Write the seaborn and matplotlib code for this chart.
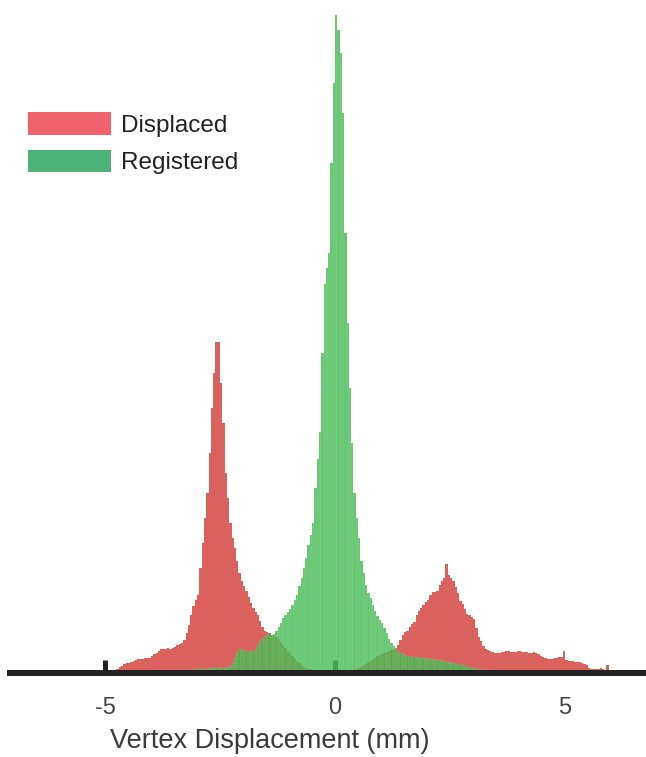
import numpy as np
import pandas as pd
import matplotlib
matplotlib.use("Agg")
import matplotlib.pyplot as plt
import seaborn as sns
from matplotlib.patches import Patch

# histogram bins: -5.0 .. 6.0, width 0.05 (heights)
bin_start = -5.0
bin_width = 0.05

displaced = [
    0, 0, 0, 0, 2, 4, 6, 7, 9, 10,                     # -5.0
    10, 11, 12, 13, 14, 14, 14, 15, 15, 15,            # -4.5
    17, 19, 20, 22, 24, 24, 24, 25, 24, 25,            # -4.0
    26, 28, 29, 30, 33, 40, 48, 58, 67, 73,            # -3.5
    78, 105, 130, 155, 180, 220, 265, 300, 331, 331,   # -3.0
    290, 250, 200, 175, 150, 135, 125, 112, 100, 92,   # -2.5
    87, 82, 76, 70, 65, 61, 58, 52, 46, 42,            # -2.0
    41, 40, 38, 37, 36, 34, 31, 28, 25, 22,            # -1.5
    20, 17, 15, 12, 10, 8, 6, 5, 4, 4,                 # -1.0
    3, 3, 3, 3, 3, 3, 3, 3, 3, 3,                      # -0.5
    3, 3, 3, 3, 3, 3, 3, 3, 4, 4,                      # 0.0
    5, 6, 8, 9, 11, 12, 14, 15, 17, 18,                # 0.5
    19, 20, 21, 22, 23, 24, 25, 28, 33, 38,            # 1.0
    41, 42, 46, 49, 51, 58, 62, 65, 68, 71,            # 1.5
    73, 78, 81, 81, 82, 88, 92, 95, 109, 98,           # 2.0
    95, 92, 86, 80, 72, 69, 64, 59, 58, 56,            # 2.5
    54, 45, 36, 32, 27, 24, 23, 22, 21, 20,            # 3.0
    20, 20, 21, 21, 22, 22, 21, 21, 21, 22,            # 3.5
    22, 21, 21, 21, 20, 20, 21, 20, 19, 17,            # 4.0
    16, 15, 14, 14, 14, 15, 15, 16, 16, 22,            # 4.5
    13, 12, 12, 12, 11, 11, 11, 10, 9, 8,              # 5.0
    5, 4, 4, 4, 4, 5, 4, 2, 8, 0,                      # 5.5
]

registered = [
    0, 0, 0, 0, 0, 0, 0, 0, 0, 0,                      # -5.0
    0, 0, 0, 0, 0, 0, 0, 1, 1, 2,                      # -4.5
    2, 2, 3, 3, 3, 3, 3, 3, 3, 3,                      # -4.0
    3, 3, 3, 3, 3, 3, 3, 3, 3, 4,                      # -3.5
    4, 4, 4, 4, 4, 5, 5, 5, 5, 5,                      # -3.0
    5, 5, 5, 6, 6, 10, 15, 20, 23, 24,                 # -2.5
    22, 22, 21, 22, 22, 24, 28, 31, 34, 37,            # -2.0
    38, 39, 38, 39, 42, 46, 50, 55, 58, 61,            # -1.5
    64, 68, 73, 78, 87, 95, 105, 115, 128, 138,        # -1.0
    150, 185, 214, 241, 320, 389, 405, 420, 510, 590,  # -0.5
    658, 643, 620, 560, 440, 350, 285, 230, 180, 155,  # 0.0
    135, 112, 100, 88, 80, 75, 68, 62, 57, 53,         # 0.5
    50, 45, 40, 34, 30, 27, 24, 22, 20, 19,            # 1.0
    18, 17, 17, 16, 16, 16, 15, 15, 15, 15,            # 1.5
    14, 14, 14, 13, 13, 13, 12, 12, 11, 11,            # 2.0
    10, 10, 9, 9, 8, 8, 7, 6, 6, 5,                    # 2.5
    5, 4, 4, 4, 3, 3, 3, 3, 3, 2,                      # 3.0
    2, 2, 1, 1, 1, 1, 1, 1, 1, 1,                      # 3.5
    1, 1, 1, 1, 1, 1, 1, 1, 1, 1,                      # 4.0
    1, 1, 1, 0, 0, 0, 0, 0, 0, 0,                      # 4.5
    0, 0, 0, 0, 0, 0, 0, 0, 0, 0,                      # 5.0
    0, 0, 0, 0, 0, 0, 0, 0, 0, 0,                      # 5.5
]

series_names = ["Displaced", "Registered"]
legend_colors = ["#F2626A", "#4CB278"]
xticks = [-5, 0, 5]
xlabel = "Vertex Displacement (mm)"

sns.set_style("white")
plt.rcParams["font.family"] = ["Liberation Sans", "DejaVu Sans"]

n_bins = len(displaced)
bin_end = bin_start + bin_width * n_bins
centers = bin_start + bin_width * (np.arange(n_bins) + 0.5)
df = pd.DataFrame({"x": centers, "displaced": displaced, "registered": registered})

fig = plt.figure(figsize=(6.46, 7.57), dpi=100)
ax = fig.add_axes([10 / 646, 84 / 757, 636 / 646, 673 / 757])

sns.histplot(data=df, x="x", weights="displaced", binwidth=bin_width,
             binrange=(bin_start, bin_end), color="#DB615D", alpha=1,
             linewidth=0, ax=ax)
sns.histplot(data=df, x="x", weights="registered", binwidth=bin_width,
             binrange=(bin_start, bin_end), color="#3DB84A", alpha=0.8,
             linewidth=0.3, edgecolor=(1, 1, 1, 0.25), ax=ax)

ax.set_xlim(-7.065, 6.76)
ax.set_ylim(0, 673)
ax.set_yticks([])
ax.set_ylabel("")
for s in ["left", "right", "top"]:
    ax.spines[s].set_visible(False)
ax.spines["bottom"].set_linewidth(4.3)
ax.spines["bottom"].set_color("#222222")
ax.spines["bottom"].set_zorder(5)

ax.set_xticks(xticks)
ax.set_xticklabels([str(t) for t in xticks])
ax.tick_params(axis="x", bottom=True, direction="in", length=9.5, width=3.6,
               color="#222222", pad=17, labelsize=17, labelcolor="#444444")
for t in ax.xaxis.get_major_ticks():
    t.tick1line.set_zorder(5)
ax.set_xlabel(xlabel, fontsize=19.5, color="#3a3a3a")
ax.xaxis.set_label_coords(260 / 636, -55 / 673)

handles = [Patch(facecolor=c, edgecolor="none", label=n)
           for n, c in zip(series_names, legend_colors)]
fig.legend(handles=handles, loc="upper left", bbox_to_anchor=(28 / 646, 1 - 112 / 757),
           frameon=False, fontsize=17.5, handlelength=3.4, handleheight=1.05,
           handletextpad=0.42, labelspacing=0.55, borderpad=0, borderaxespad=0,
           labelcolor="#222222")

fig.savefig("out.png", dpi=100)
